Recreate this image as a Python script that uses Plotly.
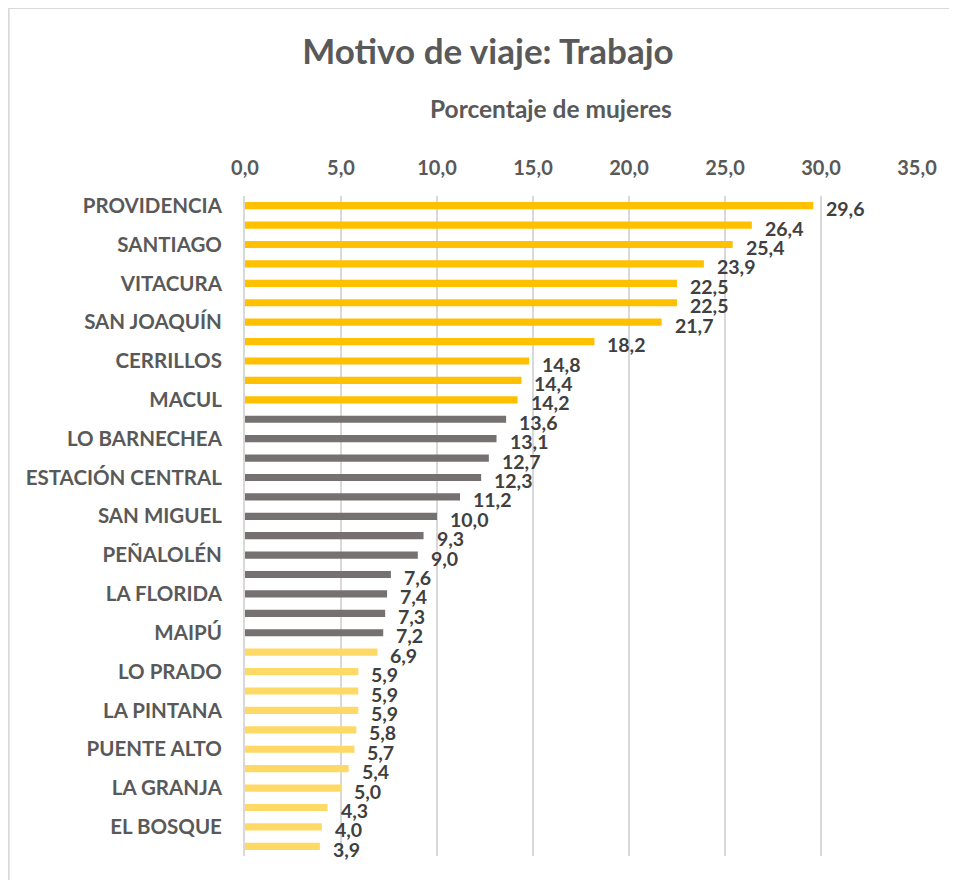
import plotly.graph_objects as go

# Communes (only every other label is shown in the original chart)
comunas = [
    "PROVIDENCIA", "LAS CONDES", "SANTIAGO", "ÑUÑOA", "VITACURA", "LA REINA",
    "SAN JOAQUÍN", "INDEPENDENCIA", "CERRILLOS", "RECOLETA", "MACUL",
    "QUINTA NORMAL", "LO BARNECHEA", "HUECHURABA", "ESTACIÓN CENTRAL",
    "CONCHALÍ", "SAN MIGUEL", "RENCA", "PEÑALOLÉN", "QUILICURA", "LA FLORIDA",
    "PUDAHUEL", "MAIPÚ", "CERRO NAVIA", "LO PRADO", "SAN RAMÓN", "LA PINTANA",
    "LO ESPEJO", "PUENTE ALTO", "PEDRO AGUIRRE CERDA", "LA GRANJA",
    "LA CISTERNA", "EL BOSQUE", "SAN BERNARDO",
]
valores = [
    29.6, 26.4, 25.4, 23.9, 22.5, 22.5, 21.7, 18.2, 14.8, 14.4, 14.2,
    13.6, 13.1, 12.7, 12.3, 11.2, 10.0, 9.3, 9.0, 7.6, 7.4, 7.3, 7.2,
    6.9, 5.9, 5.9, 5.9, 5.8, 5.7, 5.4, 5.0, 4.3, 4.0, 3.9,
]
grupo = ["alto"] * 11 + ["medio"] * 12 + ["bajo"] * 11
colores_grupo = {"alto": "#FFC000", "medio": "#767171", "bajo": "#FFD966"}
etiquetas_visibles = comunas[::2]
ticks_x = [0, 5, 10, 15, 20, 25, 30, 35]

FONT = "Lato, 'Open Sans', sans-serif"
colores = [colores_grupo[g] for g in grupo]

# margins (page has an 8px body offset)
ML, MT, MR, MB = 237, 188, 48, 32
PW = 957 - ML - MR
PH = 880 - MT - MB

fig = go.Figure()
fig.add_trace(go.Bar(
    x=valores,
    y=comunas,
    orientation="h",
    marker=dict(color=colores, line=dict(width=0)),
    width=0.37,
    hoverinfo="x+y",
))

for c, v in zip(comunas, valores):
    fig.add_annotation(
        x=v, y=c, xref="x", yref="y",
        text="<b>" + f"{v:.1f}".replace(".", ",") + "</b>",
        showarrow=False, xanchor="left", yanchor="middle",
        xshift=11, yshift=-3,
        font=dict(family=FONT, size=19.5, color="#404040"),
    )

# Axis title (off-centre, as in the reference)
fig.add_annotation(
    x=(551 - 245) / PW, y=1 + (196 - 108) / PH, xref="paper", yref="paper",
    text="<b>Porcentaje de mujeres</b>", showarrow=False,
    xanchor="center", yanchor="middle",
    font=dict(family=FONT, size=24.5, color="#595959"),
)

# Outer chart border (top and left edges visible)
fig.add_shape(type="line", xref="paper", yref="paper",
              x0=-ML / PW, x1=(957 - ML) / PW,
              y0=1 + MT / PH, y1=1 + MT / PH,
              line=dict(color="#D9D9D9", width=2))
fig.add_shape(type="line", xref="paper", yref="paper",
              x0=-ML / PW + 0.001, x1=-ML / PW + 0.001,
              y0=1 + MT / PH, y1=-MB / PH,
              line=dict(color="#D9D9D9", width=2))

fig.update_layout(
    width=957, height=880,
    margin=dict(l=ML, r=MR, t=MT, b=MB),
    paper_bgcolor="white", plot_bgcolor="white",
    showlegend=False,
    bargap=0.63,
    font=dict(family=FONT, color="#595959"),
    title=dict(
        text="<b>Motivo de viaje: Trabajo</b>",
        x=(488 - 245) / PW, xref="paper", xanchor="center",
        y=1 - 44 / 880, yanchor="middle",
        font=dict(size=35, color="#595959"),
    ),
    xaxis=dict(
        side="top",
        range=[0, 35],
        tickvals=ticks_x,
        ticktext=[f"<b>{t:.1f}</b>".replace(".", ",") for t in ticks_x],
        tickfont=dict(size=20, color="#595959"),
        showgrid=True, gridcolor="#D9D9D9", gridwidth=2,
        zeroline=False, showline=False, ticks="",
        ticklabelstandoff=16,
    ),
    yaxis=dict(
        type="category",
        range=[len(comunas) - 0.5, -0.5],
        autorange=False,
        tickmode="array",
        tickvals=etiquetas_visibles,
        ticktext=[f"<b>{e}</b>" for e in etiquetas_visibles],
        tickfont=dict(size=20.5, color="#595959"),
        showgrid=False, zeroline=False,
        showline=True, linecolor="#D9D9D9", linewidth=2,
        ticks="", ticklabelstandoff=17,
    ),
)

fig.write_html("out.html")
